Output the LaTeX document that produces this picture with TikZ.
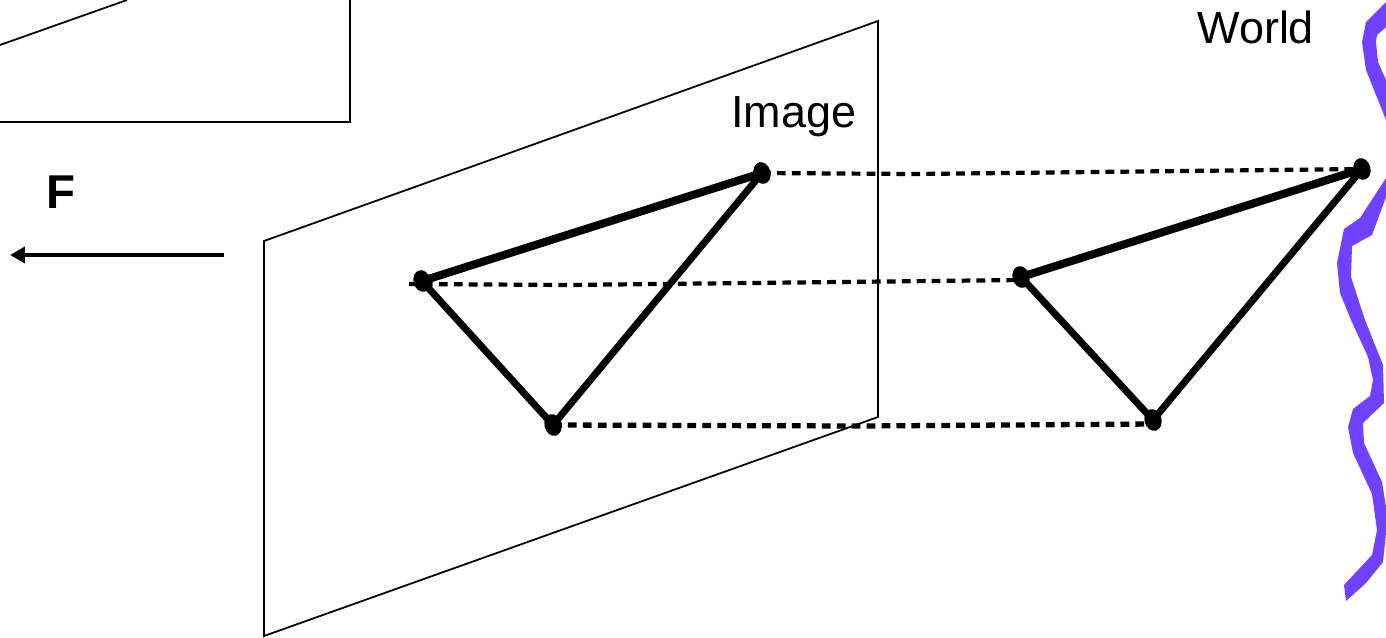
\documentclass[tikz,border=0pt]{standalone}
\usepackage{xcolor}
\usepackage{fontspec}
\setmainfont{Liberation Sans}
\usetikzlibrary{arrows.meta,shapes.geometric}
\definecolor{worldPurple}{RGB}{112,66,255}
\tikzset{
  label/.style={anchor=base west,inner sep=0pt,font=\fontsize{25.6}{30}\selectfont},
  outline/.style={line width=1pt,line join=miter},
  blob/.style={ellipse,fill=black,inner sep=0pt,minimum width=0.34cm,minimum height=0.44cm,rotate=15},
  edge/.style={line width=4pt,line cap=round},
  ray/.style={line width=2.4pt,dash pattern=on 5pt off 3.5pt},
}
\begin{document}
\begin{tikzpicture}[x=0.02cm,y=-0.02cm]
  \clip (0,0) rectangle (1386,637);
  % purple world surface (behind)
  \fill[worldPurple] (1386,2) -- (1366,22) -- (1362,42) -- (1366,70) -- (1386,120) -- (1386,80) -- (1378,62) -- (1376,42) -- (1377,35) -- (1386,27) -- cycle;
  \fill[worldPurple] (1386,178) -- (1360,218) -- (1344,229) -- (1337,263) -- (1340,293) -- (1351,320) -- (1368,357) -- (1373,380) -- (1370,396) -- (1353,409) -- (1348,427) -- (1353,453) -- (1372,494) -- (1377,530) -- (1372,555) -- (1344,585) -- (1346,601) -- (1366,583) -- (1383,562) -- (1386,533) -- (1386,507) -- (1382,482) -- (1364,443) -- (1363,423) -- (1384,403) -- (1383,365) -- (1365,320) -- (1351,277) -- (1352,246) -- (1372,235) -- (1386,197) -- cycle;
  % frames
  \draw[outline] (0,45) -- (127,0);
  \draw[outline,line width=1.2pt] (350,-5) -- (350,122) -- (-5,122);
  \draw[outline] (264,241) -- (878,21) -- (878,417) -- (264,636) -- cycle;
  % labels
  \node[label] (worldLabel) at (1197,43) {World};
  \node[label] (imageLabel) at (731,127) {Image};
  \node[label,font=\fontsize{27}{32}\selectfont\bfseries] (fLabel) at (46,208) {F};
  % image points
  \node[blob] (imgA) at (422,281) {};
  \node[blob] (imgB) at (762,173) {};
  \node[blob] (imgC) at (553,425) {};
  % world points
  \node[blob] (wldA) at (1021,277) {};
  \node[blob] (wldB) at (1362,169) {};
  \node[blob] (wldC) at (1153,420) {};
  % rays
  \coordinate (rayStart) at (409,284);
  \coordinate (rayBendA) at (567,285);
  \coordinate (rayEndA) at (1021,280);
  \coordinate (rayBendB) at (915,174);
  \coordinate (rayBendC) at (860,426);
  \coordinate (rayEndC) at (1153,424);
  \draw[ray] (rayStart) -- (rayBendA) -- (rayEndA);
  \draw[ray] (imgB.center) -- (rayBendB) -- (wldB.center);
  \draw[ray,line width=3pt] (imgC.center) -- (rayBendC) -- (rayEndC);
  % triangles
  \draw[edge,line width=4.6pt] (imgA.center) -- (imgB.center);
  \draw[edge] (imgA.center) -- (imgC.center);
  \draw[edge] (imgB.center) -- (imgC.center);
  \draw[edge,line width=4.6pt] (wldA.center) -- (wldB.center);
  \draw[edge] (wldA.center) -- (wldC.center);
  \draw[edge] (wldB.center) -- (wldC.center);
  % F arrow
  \coordinate (arrowStart) at (224,255);
  \coordinate (arrowEnd) at (10,255);
  \draw[-{Stealth[length=0.3cm,width=0.32cm,inset=0pt]},line width=2.5pt] (arrowStart) -- (arrowEnd);
\end{tikzpicture}
\end{document}
